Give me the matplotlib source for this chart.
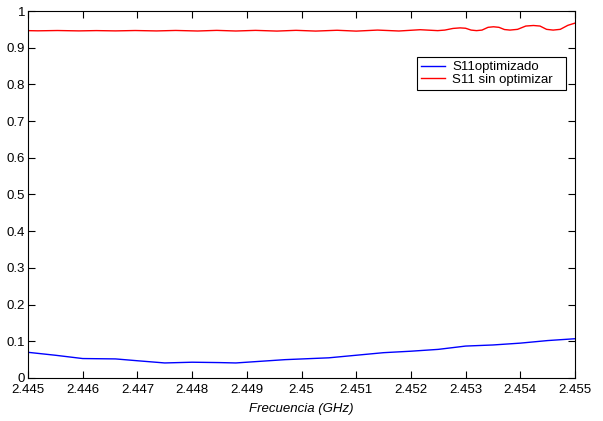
import matplotlib
matplotlib.use("Agg")
import matplotlib.pyplot as plt
from matplotlib.ticker import FuncFormatter, MultipleLocator

plt.rcParams['font.family'] = ['Liberation Sans', 'DejaVu Sans']

# S11 optimizado (blue)
opt_x = [2.445, 2.4455, 2.446, 2.4466, 2.447, 2.4475, 2.448, 2.4485, 2.4488, 2.449,
         2.4497, 2.4505, 2.451, 2.4515, 2.452, 2.4525, 2.453, 2.4535, 2.454, 2.4545, 2.455]
opt_y = [0.070, 0.062, 0.053, 0.052, 0.047, 0.041, 0.043, 0.042, 0.041, 0.043,
         0.050, 0.055, 0.062, 0.069, 0.073, 0.078, 0.087, 0.090, 0.095, 0.102, 0.107]

# S11 sin optimizar (red)
sin_x = [2.445, 2.44518, 2.44554, 2.44593, 2.44625, 2.4466, 2.44696, 2.44735, 2.4477,
         2.4481, 2.44845, 2.4488, 2.44916, 2.44955, 2.4499, 2.45026, 2.45065, 2.451,
         2.45139, 2.45178, 2.45217, 2.45249, 2.45262, 2.45277, 2.4529, 2.453, 2.4531,
         2.4532, 2.4533, 2.45341, 2.45351, 2.45361, 2.45371, 2.45381, 2.45395, 2.4541,
         2.45424, 2.45436, 2.45448, 2.4546, 2.45473, 2.45487, 2.455]
sin_y = [0.9465, 0.9460, 0.9468, 0.9458, 0.9466, 0.9458, 0.9468, 0.9457, 0.9470,
         0.9455, 0.9472, 0.9455, 0.9472, 0.9453, 0.9473, 0.9453, 0.9475, 0.9452,
         0.9480, 0.9455, 0.9490, 0.9465, 0.9480, 0.9525, 0.9540, 0.9530, 0.9480,
         0.9465, 0.9480, 0.9555, 0.9570, 0.9555, 0.9495, 0.9480, 0.9500, 0.9590,
         0.9605, 0.9590, 0.9500, 0.9480, 0.9500, 0.9610, 0.9670]

fig = plt.figure(figsize=(6.03, 4.21), dpi=100)
ax = fig.add_axes([28/603, 43/421, 547/603, 367/421])

ax.plot(opt_x, opt_y, color=(0, 0, 1), lw=1.0, label='S11optimizado')
ax.plot(sin_x, sin_y, color=(1, 0, 0), lw=1.0, label='S11 sin optimizar')

ax.set_xlim(2.445, 2.455)
ax.set_ylim(0, 1)
ax.xaxis.set_major_locator(MultipleLocator(0.001))
ax.yaxis.set_major_locator(MultipleLocator(0.1))
ax.xaxis.set_major_formatter(FuncFormatter(lambda v, p: '%g' % round(v, 4)))
ax.yaxis.set_major_formatter(FuncFormatter(lambda v, p: '%g' % round(v, 2)))
ax.tick_params(direction='in', length=5, width=0.8, top=True, right=True,
               labelsize=9.5)
ax.tick_params(axis='x', pad=4.5)
ax.tick_params(axis='y', pad=2)
for s in ax.spines.values():
    s.set_linewidth(0.8)

ax.set_xlabel('Frecuencia (GHz)', style='italic', fontsize=9.5, labelpad=5)

x0 = (417 - 28) / 547
w = (566 - 417) / 547
y1 = (378 - 57) / 367
h = (89 - 57) / 367
leg = ax.legend(loc='upper left', bbox_to_anchor=(x0, y1 - h, w, h), mode='expand',
                borderaxespad=0, fancybox=False, edgecolor='black', framealpha=1,
                fontsize=9.5, handlelength=1.8, handletextpad=0.55,
                labelspacing=0.05, borderpad=0.3)
leg.get_frame().set_linewidth(0.8)

fig.savefig('out.png', dpi=100)
